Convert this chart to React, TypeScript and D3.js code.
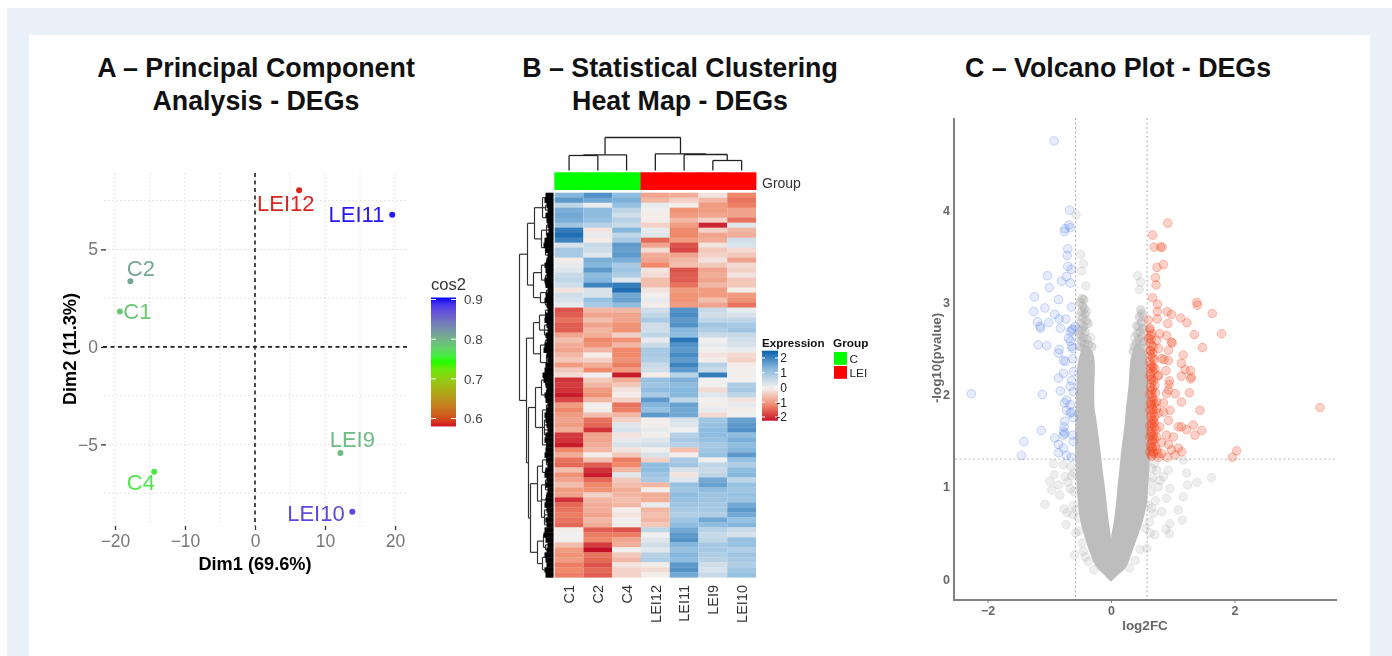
import React, { useEffect, useRef } from 'react';
import * as d3 from 'd3';

// panel A - PCA
const pcaNames = ['LEI12', 'LEI11', 'C2', 'C1', 'LEI9', 'C4', 'LEI10'];
const pcaDim1 = [6.3, 19.6, -17.8, -19.3, 12.2, -14.4, 13.9];
const pcaDim2 = [8.03, 6.78, 3.37, 1.81, -5.44, -6.4, -8.45];
const pcaCos2 = [0.585, 0.9, 0.808, 0.785, 0.795, 0.762, 0.875];
const pcaLabelDim1 = [4.4, 14.5, -16.3, -16.8, 13.9, -16.3, 8.7];
const pcaLabelDim2 = [7.38, 6.82, 4.04, 1.86, -4.72, -6.94, -8.52];
const pcaXTicks = [-20, -10, 0, 10, 20];
const pcaYTicks = [-5, 0, 5];
const pcaXGrid = [-20, -15, -10, -5, 0, 5, 10, 15, 20];
const pcaYGrid = [-7.5, -5, -2.5, 0, 2.5, 5, 7.5];
const cos2Ticks = [0.6, 0.7, 0.8, 0.9];

// panel B - heat map, one array per column, top row first
const heatColumns = ['C1', 'C2', 'C4', 'LEI12', 'LEI11', 'LEI9', 'LEI10'];
const heatC1 = [1.3, 1.7, .6, 1.4, 1.5, 1.4, 1.0, 2.1, 2.3, 2.0, .3, .9, .9, -.1, .1, .2, .5, .6, .4, -.2, .4, .3, .1, -1.7, -1.6, -1.4,
  -1.6, -1.6, -.9, -.6, -.8, -.9, -.7, -.5, -1.0, -.5, -.3, -2.0, -1.9, -2.0, -2.2, -1.8, -1.0, -1.2, -1.0, -.9, -1.0, -.8, -1.9, -2.0, -2.2, -1.2,
  -.8, -1.4, -1.5, -.6, -1.1, -.9, -.6, -1.0, -.9, -2.0, -1.5, -1.4, -1.3, -1.4, -1.5, -.1, .0, .0, -.6, -1.0, -1.1, -1.0, -1.3, -1.2, -1.3];
const heatC2 = [1.8, 1.5, .1, 1.2, 1.2, 1.1, .7, -.2, .1, -.1, .5, .4, .2, 1.4, 1.3, 1.7, 1.2, 1.3, 2.0, .3, .3, 1.1, .9, -.7, -.9, -.6,
  -.9, -.7, -.8, -1.2, -1.1, -.7, -.1, -.4, -.8, -1.2, .0, -.5, -.7, -1.0, -1.1, -.7, .0, -.1, -.6, -1.4, -1.5, -2.0, -.9, -.9, -.8, -.7,
  -.1, -.6, -1.6, -2.0, -2.2, -1.5, -1.2, -1.1, -.4, -.7, -.8, -.8, -.9, -.7, -.8, -1.6, -1.3, -1.2, -1.9, -2.3, -1.4, -1.5, -1.7, -1.5, -1.6];
const heatC4 = [1.2, 1.4, 1.1, .6, .4, .7, .5, 1.3, .6, .9, 1.7, 1.6, 1.7, 1.4, .9, 1.0, .8, .2, 2.1, 2.3, 1.5, 1.6, 1.2, -.7, -.9, -.9,
  -1.1, -1.1, -.4, -1.1, -.7, -1.2, -1.2, -1.1, -1.3, -1.0, -2.2, -.8, -.5, -.2, -.1, -.4, -1.4, -1.3, -.7, -.4, .2, .3, -.2, .1, .3, -.2,
  -.5, -1.3, -1.2, -.7, .2, -.5, -.6, -.8, -.7, -.6, -.7, -.1, -.2, .0, -.1, -1.7, -1.3, -.9, -.8, .0, -.5, -.7, -.2, -.4, -.4];
const heatL12 = [-.9, -.7, .1, .0, -.1, -.1, -.4, .1, .2, -1.5, -.9, -.3, -.8, -.9, -1.2, -.2, -.3, -.6, -.6, -.2, .0, .1, -.1, .4, .6, .9,
  .4, .4, .6, .1, .5, .9, .9, .8, .5, .4, -.1, 1.1, 1.0, 1.2, .9, 1.7, 1.3, 1.1, 1.7, .0, -.1, .1, .0, .2, .4, .0,
  .3, -.4, 1.2, 1.2, 1.0, .9, -.7, -.1, -.8, -.8, .1, -.7, -.6, -.7, -.5, .6, .0, .2, .4, .2, .7, .8, -.1, -.3, -.1];
const heatL11 = [-.8, -.4, -.1, -1.1, -1.0, -.7, -1.0, -1.2, -1.2, -1.0, -1.7, -1.8, -.9, -.7, -.6, -1.7, -1.6, -1.6, -1.4, -1.0, -1.1, -1.1, -1.0, 1.8, 1.9, 1.7,
  1.8, 1.3, 1.2, 2.2, 1.8, 1.7, 1.9, 1.7, 2.0, 1.7, .7, 1.4, 1.2, 1.3, 1.3, .6, 1.6, 1.5, 1.5, .3, .2, .0, .7, .9, .7, -.6,
  -.1, .9, 1.0, .3, -.2, .2, 1.1, 1.0, 1.2, 1.1, 1.0, .9, .8, 1.0, 1.2, 1.5, 1.7, 1.8, 1.3, 1.1, 1.3, 1.2, 1.7, 1.8, 1.5];
const heatL9 = [-.2, -.7, -1.0, -1.0, -.9, -.4, -2.1, -.4, -.9, -.8, -.2, -.5, -.4, -.2, -.5, -.9, -.8, -.9, -.7, -1.0, -1.0, -.6, -.9, .5, .4, .6,
  1.0, .8, .5, .0, .1, .0, -.2, -.1, .7, .5, 2.1, .0, .0, -.3, .2, .0, -.1, .1, -.3, 1.0, 1.1, 1.2, 1.2, 1.1, .9, 1.0,
  1.1, .0, .6, .5, .6, 1.5, 1.6, 1.2, 1.0, 1.0, .9, .9, .8, 1.5, 1.2, .7, .5, .6, .9, .9, .8, .7, .4, .3, .5];
const heatL10 = [-1.2, -1.4, -1.3, -.9, -.9, -1.4, .2, -.7, -.8, .4, .3, -.3, -.5, -.9, -.3, -.4, -.2, -.5, -.5, -.1, -1.0, -1.1, -1.4, .1, .3, .6,
  .9, 1.0, .5, .4, .3, .1, -.3, -.4, -.1, .0, .0, .0, .8, .9, .6, -.2, .1, -.1, .0, 1.6, 1.7, 1.8, 1.2, 1.4, 1.2, 1.3,
  1.7, 1.1, .8, 1.2, 1.3, .6, 1.1, 1.0, 1.1, 1.0, 1.5, 1.7, 1.5, 1.1, 1.3, .5, .3, 1.1, 1.1, .8, 1.0, .9, .8, 1.0, 1.1];
const heatValues = [heatC1, heatC2, heatC4, heatL12, heatL11, heatL9, heatL10];
const heatGroups = ['C', 'C', 'C', 'LEI', 'LEI', 'LEI', 'LEI'];
const expressionTicks = [-2, -1, 0, 1, 2];

// dendrograms: [height, ...children], a number is a leaf (column or row index)
type Tree = number | (number | Tree)[];
const colTree: Tree = [33, [15.7, [15, 0, 1], 2], [16.7, 3, [16, 4, [10, 5, 6]]]];
const rowTree: Tree = [34,
  [26,
    [19, [11, [7, 0, 1], [8, 2, 3], [6, 4, 5]], [12, [7, 6, 7, 8], [8, 9, 10, 11, 12]]],
    [20, [12, [7, 13, 14, 15], [8, 16, 17, 18]], [13, [7, 19, 20], [8, 21, 22]]]],
  [27,
    [20, [14, [8, 23, 24, 25], [9, 26, 27, 28]], [13, [8, 29, 30, 31], [7, 32, 33, 34, 35]]],
    [25,
      [18, [12, [8, 36, 37, 38], [7, 39, 40, 41]], [11, [7, 42, 43, 44], [9, 45, 46, 47, 48], [7, 49, 50, 51]]],
      [23,
        [16, [11, [7, 52, 53, 54], [8, 55, 56]], [12, [8, 57, 58, 59], [7, 60, 61, 62], [9, 63, 64, 65, 66]]],
        [16, [10, [7, 67, 68, 69], [8, 70, 71]], [11, [7, 72, 73], [6, 74, 75, 76]]]]]]];
const rowLeafDepth = [8, 9, 7, 6, 8, 7, 6, 5, 7, 9, 10, 8, 6, 7, 9, 8, 7, 9, 8, 6, 8, 9, 7, 6, 8, 9, 7, 6, 8, 7, 9, 10, 7, 6, 8, 9,
  11, 10, 8, 7, 9, 8, 6, 7, 9, 8, 7, 6, 8, 9, 7, 8, 9, 7, 6, 8, 9, 7, 8, 6, 7, 8, 9, 7, 6, 8, 7, 9, 10, 8, 6, 7, 9, 8, 7, 9, 8];

// panel C - volcano
const volcanoXTicks = [-2, 0, 2];
const volcanoYTicks = [0, 1, 2, 3, 4];
const foldCut = [-0.575, 0.585];
const pCut = 1.3;
// edges of the solid grey V at each -log10(p) level
const massLevels = [-.03, .05, .1, .28, .42, .64, .82, 1.0, 1.18, 1.36, 1.54, 1.72, 1.9, 2.1, 2.27, 2.4, 2.5];
const massLeftOuter = [0, -.12, -.2, -.34, -.41, -.5, -.535, -.556, -.57, -.58, -.58, -.575, -.57, -.56, -.55, -.52, -.47];
const massLeftInner = [0, 0, 0, 0, 0, -.04, -.07, -.1, -.135, -.165, -.2, -.235, -.27, -.27, -.26, -.27, -.33];
const massRightInner = [0, 0, 0, 0, 0, .05, .08, .105, .135, .16, .195, .225, .25, .285, .3, .32, .39];
const massRightOuter = [0, .12, .21, .335, .41, .52, .58, .6, .62, .63, .615, .61, .605, .6, .595, .58, .54];
// tops of both arms of the V and its fringe, heavily overlapped
const greyDense = [[-.47, 3.04], [-.44, 3.03], [-.5, 3.0], [-.46, 2.96], [-.43, 2.93], [-.48, 2.9], [-.42, 2.87], [-.46, 2.83], [-.4, 2.8], [-.49, 2.77], [-.44, 2.74], [-.37, 2.77],
  [-.47, 2.7], [-.42, 2.68], [-.5, 2.65], [-.45, 2.62], [-.39, 2.6], [-.48, 2.58], [-.43, 2.55], [-.36, 2.54], [-.5, 2.52], [-.45, 2.5], [-.4, 2.48], [-.31, 2.52],
  [.48, 2.92], [.5, 2.88], [.46, 2.84], [.49, 2.78], [.44, 2.74], [.52, 2.72], [.47, 2.68], [.42, 2.66], [.5, 2.63], [.45, 2.6], [.53, 2.58], [.41, 2.56], [.48, 2.54], [.44, 2.5], [.38, 2.52], [.52, 2.5], [.42, 2.46], [.36, 2.47]];
const greyPoints = [[-.567, 3.95], [-.49, 3.52], [-.45, 3.42], [-.475, 3.34], [-.405, 3.18], [.43, 3.29], [.48, 3.22], [.46, 3.14], [-.39, 2.9], [.52, 2.84], [-.5, 2.85], [-.53, 2.7], [-.55, 2.62], [.41, 2.75], [.38, 2.62], [-.33, 2.62], [.55, 2.7],
  [-.93, 1.25], [-.77, 1.24], [-.92, 1.13], [-.745, 1.11], [-.64, 1.12], [-.99, 1.06], [-.85, 1.02], [-.96, .965], [-.83, .91], [-.66, .98], [-1.07, .81], [-.76, .76], [-.71, .72],
  [-.73, .59], [-.61, .8], [-.53, .66], [-.47, .39], [-.59, .26], [-.37, .19], [-.65, 1.22], [-.7, 1.05], [-.62, .7], [-.57, .5], [-.45, .3], [-.6, 1.15], [-.6, .95], [-.56, .75], [-.52, .52], [-.42, .24], [-.28, .1],
  [1.17, 1.29], [1.225, 1.15], [1.39, 1.05], [1.63, 1.1], [1.24, 1.02], [.955, .98], [.77, 1.0], [.9, .875], [1.17, .89], [.82, .73], [1.09, .75], [1.155, .64], [.955, .6], [.89, .54], [.945, .49],
  [.71, .48], [.63, .5], [.58, .33], [.39, .2], [.685, .71], [.93, 1.18], [.85, 1.11], [.74, 1.18], [.79, 1.07], [.66, .77], [.7, 1.25], [.68, 1.1], [.65, .95], [.72, .85], [.62, .62], [.66, 1.2], [.64, 1.05], [.6, .8], [.55, .55], [.47, .32], [.3, .12]];
const downPoints = [[-.92, 4.75], [-.67, 4.0], [-.68, 3.84], [-.745, 3.8], [-.66, 3.81], [-.755, 3.77], [-.7, 3.58], [-.71, 3.51], [-.7, 3.39], [-.64, 3.36],
  [-1.03, 3.29], [-.72, 3.28], [-.8, 3.23], [-1.0, 3.16], [-.66, 3.21], [-1.24, 3.06], [-.85, 3.03], [-.64, 2.95], [-1.07, 2.94], [-1.25, 2.9], [-.91, 2.87],
  [-.84, 2.82], [-.73, 2.82], [-1.19, 2.79], [-1.01, 2.78], [-1.15, 2.74], [-1.14, 2.72], [-.82, 2.72], [-.58, 2.74], [-.62, 2.71], [-.66, 2.68], [-.64, 2.7], [-.69, 2.61], [-.66, 2.58],
  [-1.18, 2.54], [-1.04, 2.53], [-.64, 2.52], [-.62, 2.5], [-.84, 2.49], [-.85, 2.45], [-.77, 2.37], [-.74, 2.36], [-.62, 2.39], [-.61, 2.25], [-.77, 2.23],
  [-2.26, 2.01], [-1.11, 2.0], [-.82, 2.04], [-.85, 2.18], [-.64, 2.15], [-.61, 2.03], [-.66, 2.09], [-.72, 1.94], [-.75, 1.91], [-.66, 1.89], [-.64, 1.81], [-.72, 1.83], [-.66, 1.8],
  [-.61, 1.75], [-.75, 1.71], [-.76, 1.65], [-.77, 1.6], [-.75, 1.58], [-.77, 1.56], [-1.13, 1.61], [-.91, 1.53], [-.62, 1.56], [-.61, 1.49], [-1.41, 1.49], [-.85, 1.46], [-.77, 1.42],
  [-.85, 1.37], [-1.45, 1.34], [-.72, 1.34], [-.64, 1.32]];
const upPoints = [[.92, 3.86], [.675, 3.73], [.7, 3.6], [.8, 3.6], [.83, 3.6], [.85, 3.41], [.745, 3.38], [.72, 3.27], [.73, 3.19], [.675, 3.05], [.755, 2.98], [1.39, 3.0], [1.4, 2.97],
  [.75, 2.9], [.91, 2.9], [.98, 2.87], [1.64, 2.88], [.75, 2.82], [1.13, 2.83], [1.23, 2.78], [.605, 2.81], [.92, 2.77], [1.79, 2.66], [1.35, 2.65], [.63, 2.72], [.66, 2.66], [.79, 2.66],
  [.9, 2.64], [.605, 2.61], [.74, 2.59], [.98, 2.57], [.99, 2.56], [1.48, 2.51], [.685, 2.52], [.77, 2.5], [.93, 2.48], [.63, 2.48], [1.17, 2.43], [.82, 2.39], [.86, 2.38], [.93, 2.37],
  [.685, 2.3], [1.14, 2.34], [.71, 2.28], [.64, 2.23], [.89, 2.26], [1.2, 2.27], [1.285, 2.26], [1.14, 2.2], [1.3, 2.19], [.77, 2.21], [.945, 2.15],
  [.755, 2.2], [1.29, 2.17], [.66, 2.18], [.71, 2.1], [.94, 2.11], [.93, 2.05], [1.04, 2.01], [1.27, 2.02], [.66, 2.01], [.9, 2.01], [.685, 1.94], [1.14, 1.92], [.85, 1.91], [.66, 1.89],
  [.74, 1.85], [.955, 1.83], [1.44, 1.83], [3.385, 1.86], [.85, 1.81], [.685, 1.8], [.77, 1.8], [.93, 1.72], [.685, 1.72], [1.33, 1.67], [1.09, 1.65], [1.14, 1.65], [1.225, 1.62], [.7, 1.65],
  [.79, 1.65], [1.47, 1.61], [1.36, 1.56], [.9, 1.56], [.685, 1.58], [.74, 1.54], [1.01, 1.54], [.675, 1.49], [.82, 1.48], [.93, 1.46], [1.09, 1.42], [.74, 1.4], [1.145, 1.38],
  [2.035, 1.39], [1.965, 1.32], [.685, 1.38], [.82, 1.36], [.91, 1.32], [1.04, 1.345], [.77, 1.32], [.66, 1.33], [.98, 1.4],
  // the packed strip just right of the cut
  [.63, 2.7], [.64, 2.64], [.65, 2.6], [.63, 2.56], [.66, 2.53], [.64, 2.47], [.64, 2.43], [.67, 2.4], [.63, 2.36], [.65, 2.33], [.64, 2.28], [.68, 2.25], [.63, 2.2], [.65, 2.16], [.66, 2.12],
  [.64, 2.08], [.65, 2.04], [.63, 2.0], [.67, 1.97], [.65, 1.93], [.64, 1.9], [.66, 1.86], [.63, 1.83], [.65, 1.79], [.64, 1.76], [.67, 1.73], [.65, 1.69], [.63, 1.66], [.66, 1.63], [.64, 1.6],
  [.65, 1.57], [.63, 1.54], [.67, 1.51], [.65, 1.47], [.64, 1.44], [.66, 1.41], [.63, 1.38], [.65, 1.35], [.72, 2.02], [.74, 1.92], [.71, 1.76], [.73, 1.62], [.7, 1.52], [.72, 1.44], [.76, 1.36], [.68, 2.45], [.7, 2.38],
  [.66, 2.3], [.67, 2.06], [.68, 1.84], [.67, 1.68], [.68, 1.55], [.67, 1.43], [.69, 1.36], [.69, 2.15], [.7, 1.9], [.7, 1.7]];

export default function App() {
  const svgRef = useRef<SVGSVGElement>(null);

  useEffect(() => {
    const svg = d3.select(svgRef.current);
    svg.selectAll('*').remove();
    const sans = '"Liberation Sans", Arial, sans-serif';
    svg.attr('font-family', sans);

    const defs = svg.append('defs');
    defs.append('filter').attr('id', 'soft').attr('filterUnits', 'userSpaceOnUse')
      .attr('x', 0).attr('y', 0).attr('width', 1392).attr('height', 656)
      .append('feGaussianBlur').attr('stdDeviation', 0.6);

    // page
    svg.append('rect').attr('x', 7).attr('y', 8).attr('width', 1385).attr('height', 648).attr('fill', '#e8f0f9');
    svg.append('rect').attr('x', 29).attr('y', 35).attr('width', 1341).attr('height', 621).attr('fill', '#fff');

    const titles = svg.append('g').attr('font-weight', 700).attr('font-size', 26.8).attr('fill', '#111').attr('text-anchor', 'middle');
    const titleRows: [string, number, number][] = [
      ['A – Principal Component', 256, 77], ['Analysis - DEGs', 256, 110],
      ['B – Statistical Clustering', 680, 77], ['Heat Map - DEGs', 680, 110],
      ['C – Volcano Plot - DEGs', 1118, 77],
    ];
    titleRows.forEach(([t, x, y]) => titles.append('text').attr('x', x).attr('y', y).text(t));

    const root = svg.append('g').attr('filter', 'url(#soft)');

    // ---- panel A
    const a = root.append('g');
    const x = d3.scaleLinear().domain([-21.71, 21.71]).range([103, 407]);
    const y = d3.scaleLinear().domain([-9.23, 8.87]).range([526.9, 173.9]);
    const cos2Color = d3.scaleLinear<string>().domain([0.58, 0.745, 0.905]).range(['#d60f20', '#00ff00', '#0000ff']).interpolate(d3.interpolateLab);

    a.append('g').selectAll('line').data(pcaXGrid).join('line')
      .attr('x1', d => x(d)).attr('x2', d => x(d)).attr('y1', 173).attr('y2', 526)
      .attr('stroke', '#dcdcdc').attr('stroke-dasharray', '1.5 2.5');
    a.append('g').selectAll('line').data(pcaYGrid).join('line')
      .attr('y1', d => y(d)).attr('y2', d => y(d)).attr('x1', 104).attr('x2', 407)
      .attr('stroke', '#dcdcdc').attr('stroke-dasharray', '1.5 2.5');
    a.append('line').attr('x1', x(0)).attr('x2', x(0)).attr('y1', 173).attr('y2', 526)
      .attr('stroke', '#222').attr('stroke-width', 1.6).attr('stroke-dasharray', '4 3.5');
    a.append('line').attr('y1', y(0)).attr('y2', y(0)).attr('x1', 103).attr('x2', 407)
      .attr('stroke', '#222').attr('stroke-width', 1.6).attr('stroke-dasharray', '4 3.5');

    const xAxisA = a.append('g').attr('transform', 'translate(0,526)')
      .call(d3.axisBottom(x).tickValues(pcaXTicks).tickSize(4).tickPadding(5).tickFormat(d3.format('d') as any));
    const yAxisA = a.append('g').attr('transform', 'translate(106,0)')
      .call(d3.axisLeft(y).tickValues(pcaYTicks).tickSize(5).tickPadding(3).tickFormat(d3.format('d') as any));
    [xAxisA, yAxisA].forEach(g => {
      g.select('.domain').remove();
      g.selectAll('line').attr('stroke', '#333').attr('stroke-width', 1.3);
      g.selectAll('text').attr('font-family', sans).attr('font-size', 17.5).attr('fill', '#777');
    });

    a.append('text').attr('x', 255).attr('y', 570).attr('text-anchor', 'middle')
      .attr('font-weight', 700).attr('font-size', 18.2).attr('fill', '#000').text('Dim1 (69.6%)');
    a.append('text').attr('transform', 'translate(76,349) rotate(-90)').attr('text-anchor', 'middle')
      .attr('font-weight', 700).attr('font-size', 18.2).attr('fill', '#000').text('Dim2 (11.3%)');

    pcaNames.forEach((name, i) => {
      const c = cos2Color(pcaCos2[i]);
      a.append('circle').attr('cx', x(pcaDim1[i])).attr('cy', y(pcaDim2[i])).attr('r', 3).attr('fill', c);
      a.append('text').attr('x', x(pcaLabelDim1[i])).attr('y', y(pcaLabelDim2[i])).attr('dy', '0.36em')
        .attr('text-anchor', 'middle').attr('font-size', 22).attr('fill', c).text(name);
    });

    // cos2 colour bar
    const barY = d3.scaleLinear().domain([0.6, 0.9]).range([418.5, 299.5]);
    const cosGrad = defs.append('linearGradient').attr('id', 'cosGrad').attr('x1', 0).attr('x2', 0).attr('y1', 1).attr('y2', 0);
    d3.range(0, 1.001, 0.05).forEach(t => {
      cosGrad.append('stop').attr('offset', t).attr('stop-color', cos2Color(0.58 + t * (0.905 - 0.58)));
    });
    a.append('rect').attr('x', 431).attr('width', 25).attr('y', barY(0.905)).attr('height', barY(0.58) - barY(0.905)).attr('fill', 'url(#cosGrad)');
    cos2Ticks.forEach(t => {
      a.append('line').attr('x1', 431).attr('x2', 436).attr('y1', barY(t)).attr('y2', barY(t)).attr('stroke', '#fff');
      a.append('line').attr('x1', 451).attr('x2', 456).attr('y1', barY(t)).attr('y2', barY(t)).attr('stroke', '#fff');
      a.append('text').attr('x', 464).attr('y', barY(t)).attr('dy', '0.36em').attr('font-size', 13.4)
        .attr('fill', '#444').text(t.toFixed(1));
    });
    a.append('text').attr('x', 431).attr('y', 290).attr('font-size', 16.6).attr('fill', '#333').text('cos2');

    // ---- panel B
    const b = root.append('g');
    const colX = d3.scaleBand().domain(heatColumns).range([554.7, 756]);
    const rowCount = heatC1.length;
    const rowY = d3.scaleBand().domain(d3.range(rowCount).map(String)).range([192.7, 577.3]);
    const heatColor = d3.scaleLinear<string>().domain([-2.3, -1.2, -0.05, 1.2, 2.4])
      .range(['#c40f26', '#f0896a', '#f4f1ef', '#8fbde0', '#1667ae']);

    heatColumns.forEach((col, c) => {
      b.append('g').selectAll('rect').data(heatValues[c]).join('rect')
        .attr('x', colX(col) as number).attr('width', colX.bandwidth())
        .attr('y', (_, r) => rowY(String(r)) as number).attr('height', rowY.bandwidth() + 0.3)
        .attr('fill', d => heatColor(d));
      b.append('rect').attr('x', colX(col) as number - 0.4).attr('width', colX.bandwidth() + 0.8).attr('y', 172.3).attr('height', 17.7)
        .attr('fill', heatGroups[c] === 'C' ? '#00ff00' : '#ff0000');
      const cx = (colX(col) as number) + colX.bandwidth() / 2;
      b.append('text').attr('transform', `translate(${cx},585) rotate(-90)`).attr('dy', '0.36em')
        .attr('text-anchor', 'end').attr('font-size', 14.5).attr('fill', '#333').text(col);
    });
    b.append('text').attr('x', 762).attr('y', 188).attr('font-size', 14).attr('fill', '#333').text('Group');

    // column dendrogram
    const colH = d3.scaleLinear().domain([0, 33]).range([170.5, 137.5]);
    const colCenter = (i: number) => (colX(heatColumns[i]) as number) + colX.bandwidth() / 2;
    const drawCol = (node: Tree): [number, number] => {
      if (typeof node === 'number') return [colCenter(node), 0];
      const [h, ...kids] = node as [number, ...Tree[]];
      const pts = kids.map(drawCol);
      const xs = pts.map(p => p[0]);
      pts.forEach(p => {
        b.append('line').attr('x1', p[0]).attr('x2', p[0]).attr('y1', colH(p[1])).attr('y2', colH(h))
          .attr('stroke', '#222').attr('stroke-width', 1.3);
      });
      b.append('line').attr('x1', d3.min(xs) as number).attr('x2', d3.max(xs) as number).attr('y1', colH(h)).attr('y2', colH(h))
        .attr('stroke', '#222').attr('stroke-width', 1.3);
      return [((d3.min(xs) as number) + (d3.max(xs) as number)) / 2, h];
    };
    drawCol(colTree);

    // row dendrogram
    const rowH = d3.scaleLinear().domain([0, 34]).range([553.5, 519.5]);
    const rowCenter = (i: number) => (rowY(String(i)) as number) + rowY.bandwidth() / 2;
    const drawRow = (node: Tree): [number, number] => {
      if (typeof node === 'number') return [rowCenter(node), 0];
      const [h, ...kids] = node as [number, ...Tree[]];
      const pts = kids.map(drawRow);
      const ys = pts.map(p => p[0]);
      pts.forEach(p => {
        b.append('line').attr('y1', p[0]).attr('y2', p[0]).attr('x1', rowH(p[1])).attr('x2', rowH(h))
          .attr('stroke', '#333').attr('stroke-width', 1.2);
      });
      b.append('line').attr('y1', d3.min(ys) as number).attr('y2', d3.max(ys) as number).attr('x1', rowH(h)).attr('x2', rowH(h))
        .attr('stroke', '#333').attr('stroke-width', 1.2);
      return [((d3.min(ys) as number) + (d3.max(ys) as number)) / 2, h];
    };
    drawRow(rowTree);
    b.append('g').selectAll('rect').data(rowLeafDepth).join('rect')
      .attr('x', d => rowH(d)).attr('width', d => rowH(0) - rowH(d))
      .attr('y', (_, r) => rowY(String(r)) as number).attr('height', rowY.bandwidth() + 0.4)
      .attr('fill', '#000');

    // legends
    const exprY = d3.scaleLinear().domain([-2, 2]).range([417, 358]);
    const exprGrad = defs.append('linearGradient').attr('id', 'exprGrad').attr('x1', 0).attr('x2', 0).attr('y1', 1).attr('y2', 0);
    d3.range(0, 1.001, 0.05).forEach(t => {
      exprGrad.append('stop').attr('offset', t).attr('stop-color', heatColor(exprY.invert(420.7 - t * 70)));
    });
    b.append('rect').attr('x', 762).attr('y', 350.7).attr('width', 16).attr('height', 70).attr('fill', 'url(#exprGrad)');
    expressionTicks.forEach(t => {
      b.append('line').attr('x1', 762).attr('x2', 765).attr('y1', exprY(t)).attr('y2', exprY(t)).attr('stroke', '#fff');
      b.append('line').attr('x1', 775).attr('x2', 778).attr('y1', exprY(t)).attr('y2', exprY(t)).attr('stroke', '#fff');
      b.append('text').attr('x', 787).attr('y', exprY(t)).attr('dy', '0.36em').attr('text-anchor', 'end')
        .attr('font-size', 12).attr('fill', '#222').text(t);
    });
    b.append('text').attr('x', 762).attr('y', 347).attr('font-weight', 700).attr('font-size', 11.6).attr('fill', '#111').text('Expression');
    b.append('text').attr('x', 833).attr('y', 347).attr('font-weight', 700).attr('font-size', 11.8).attr('fill', '#111').text('Group');
    ['C', 'LEI'].forEach((g, i) => {
      b.append('rect').attr('x', 834).attr('y', 352 + i * 14).attr('width', 13).attr('height', 12.8)
        .attr('fill', g === 'C' ? '#00ff00' : '#ff0000');
      b.append('text').attr('x', 849.5).attr('y', 358.5 + i * 14).attr('dy', '0.36em').attr('font-size', 11.8).attr('fill', '#222').text(g);
    });

    // ---- panel C
    const c = root.append('g');
    const vx = d3.scaleLinear().domain([-2, 2]).range([987.5, 1234.5]);
    const vy = d3.scaleLinear().domain([0, 4]).range([579, 210.2]);

    c.append('line').attr('x1', vx(foldCut[0])).attr('x2', vx(foldCut[0])).attr('y1', 118).attr('y2', 600)
      .attr('stroke', '#adadad').attr('stroke-dasharray', '2 2.5');
    c.append('line').attr('x1', vx(foldCut[1])).attr('x2', vx(foldCut[1])).attr('y1', 118).attr('y2', 600)
      .attr('stroke', '#adadad').attr('stroke-dasharray', '2 2.5');
    c.append('line').attr('x1', 955).attr('x2', 1337).attr('y1', vy(pCut)).attr('y2', vy(pCut))
      .attr('stroke', '#b8b8b8').attr('stroke-dasharray', '2 2.5');

    const drawPoints = (pts: number[][], color: string, fillOp: number, strokeOp: number) => {
      c.append('g').selectAll('circle').data(pts).join('circle')
        .attr('cx', d => vx(d[0])).attr('cy', d => vy(d[1])).attr('r', 4.3)
        .attr('fill', color).attr('fill-opacity', fillOp)
        .attr('stroke', color).attr('stroke-opacity', strokeOp).attr('stroke-width', 1);
    };
    drawPoints(greyPoints, '#a8a8a8', 0.2, 0.2);
    drawPoints(greyDense, '#b0b0b0', 0.4, 0.3);
    const massSide = (outer: number[], inner: number[]) => d3.area<number>()
      .y(d => vy(d)).x0((_, i) => vx(outer[i])).x1((_, i) => vx(inner[i])).curve(d3.curveMonotoneY)(massLevels);
    c.append('path').attr('d', massSide(massLeftOuter, massLeftInner)).attr('fill', '#bdbdbd');
    c.append('path').attr('d', massSide(massRightOuter, massRightInner)).attr('fill', '#bdbdbd');
    drawPoints(downPoints, '#5f86ea', 0.16, 0.32);
    drawPoints(upPoints, '#f4421a', 0.24, 0.3);

    const xAxisC = c.append('g').attr('transform', 'translate(0,600)')
      .call(d3.axisBottom(vx).tickValues(volcanoXTicks).tickSize(3).tickPadding(3).tickFormat(d3.format('d') as any));
    const yAxisC = c.append('g').attr('transform', 'translate(954,0)')
      .call(d3.axisLeft(vy).tickValues(volcanoYTicks).tickSize(0).tickPadding(4).tickFormat(d3.format('d') as any));
    [xAxisC, yAxisC].forEach(g => {
      g.select('.domain').remove();
      g.selectAll('line').attr('stroke', '#888');
      g.selectAll('text').attr('font-family', sans).attr('font-weight', 700).attr('font-size', 12.5).attr('fill', '#666');
    });
    c.append('path').attr('d', d3.line()([[954, 118], [954, 600], [1337, 600]]))
      .attr('fill', 'none').attr('stroke', '#808080').attr('stroke-width', 2);
    c.append('text').attr('x', 1145).attr('y', 630).attr('text-anchor', 'middle')
      .attr('font-weight', 700).attr('font-size', 13.5).attr('fill', '#666').text('log2FC');
    c.append('text').attr('transform', 'translate(941,358) rotate(-90)').attr('text-anchor', 'middle')
      .attr('font-weight', 700).attr('font-size', 13.3).attr('fill', '#666').text('-log10(pvalue)');
  }, []);

  return (
    <svg ref={svgRef} width={1392} height={656}
      style={{ position: 'absolute', left: 0, top: 0, background: '#fff' }} />
  );
}
